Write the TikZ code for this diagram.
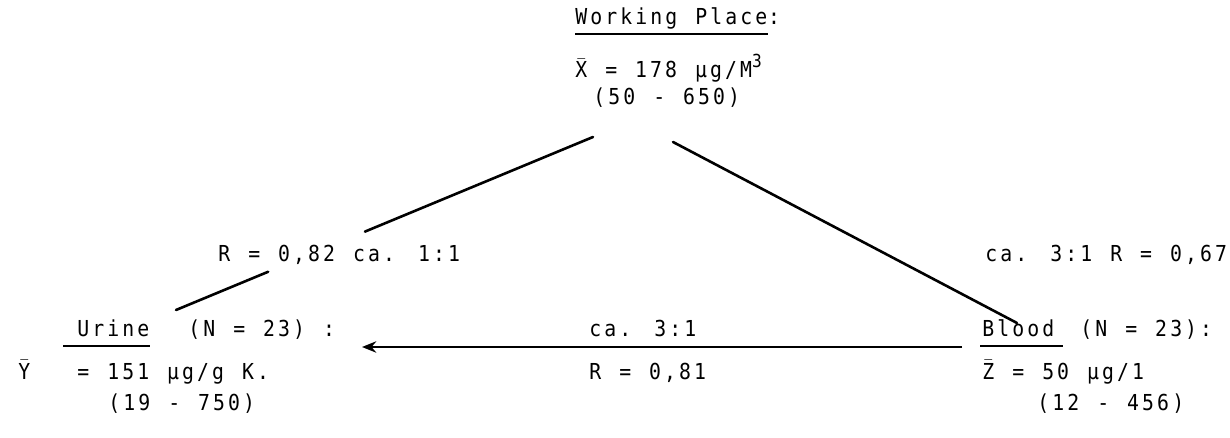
\documentclass[tikz,border=0pt]{standalone}
\usepackage{fontspec}
\newfontfamily\typew[FakeStretch=0.9,LetterSpace=14,WordSpace=1.2]{DejaVu Sans Mono}
\usetikzlibrary{positioning,arrows.meta,calc}
\newcommand{\mbar}[1]{$\bar{\mbox{#1}}$}
\tikzset{
  txt/.style  ={inner sep=0pt, anchor=base west,
                font=\typew\fontsize{11}{13}\selectfont},
  link/.style ={line width=1.3pt, line cap=round},
  uline/.style={line width=0.9pt},
  arr/.style  ={-{Stealth[length=2.5mm,width=2mm]}, line width=1.1pt},
}

\begin{document}
\begin{tikzpicture}[x=0.5pt, y=-0.5pt]
  \useasboundingbox (0,0) rectangle (1230,438);

  % working place
  \node[txt] (wp) at (575,25) {Working Place};
  \node[txt] (wpcolon) at (wp.base east) {:};
  \node[txt] (xmean) at (575,78)
       {\mbar{X} = 178 µg/M\raisebox{5pt}{\fontsize{9}{10}\selectfont 3}};
  \node[txt] (xrange) at (593,105) {(50 - 650)};

  % ratios on the slopes
  \node[txt] (r82) at (218,261) {R = 0,82 ca. 1:1};
  \node[txt] (r67) at (985,261) {ca. 3:1 R = 0,67};

  % urine
  \node[txt] (urine) at (77,336) {Urine};
  \node[txt] (urinen) at (188,336) {(N = 23) :};
  \node[txt] (ysym) at (18,379) {\mbar{Y}};
  \node[txt] (ymean) at (77,379) {= 151 µg/g K.};
  \node[txt] (yrange) at (108,410) {(19 - 750)};

  % blood
  \node[txt] (blood) at (982,336) {Blood};
  \node[txt] (bloodn) at (1080,336) {(N = 23):};
  \node[txt] (zmean) at (982,379) {\mbar{Z} = 50 µg/1};
  \node[txt] (zrange) at (1037,410) {(12 - 456)};

  % urine - blood
  \node[txt] (uzratio) at (589,336) {ca. 3:1};
  \node[txt] (uzcorr) at (589,379) {R = 0,81};

  % underlines
  \draw[uline] ([yshift=-4.5pt]wp.base west) -- ([yshift=-4.5pt]wp.base east);
  \draw[uline] ([xshift=-7pt,yshift=-4.8pt]urine.base west) -- ([yshift=-4.8pt]urine.base east);
  \draw[uline] ([xshift=-1pt,yshift=-4.8pt]blood.base west) -- ([xshift=4pt,yshift=-4.8pt]blood.base east);

  % connectors
  \coordinate (wpL) at (593,137);
  \coordinate (wpR) at (673,142);
  \coordinate (urTop) at (176,310);
  \coordinate (blTop) at (1017,323);
  \coordinate (gapA) at ($(wpL)!0.547!(urTop)$);
  \coordinate (gapB) at ($(wpL)!0.779!(urTop)$);
  \draw[link] (wpL) -- (gapA);
  \draw[link] (gapB) -- (urTop);
  \draw[link] (wpR) -- (blTop);
  \coordinate (hR) at ([xshift=-10pt,yshift=-5.5pt]blood.base west);
  \coordinate (hL) at (362,347);
  \draw[arr] (hR) -- (hL);
\end{tikzpicture}
\end{document}
